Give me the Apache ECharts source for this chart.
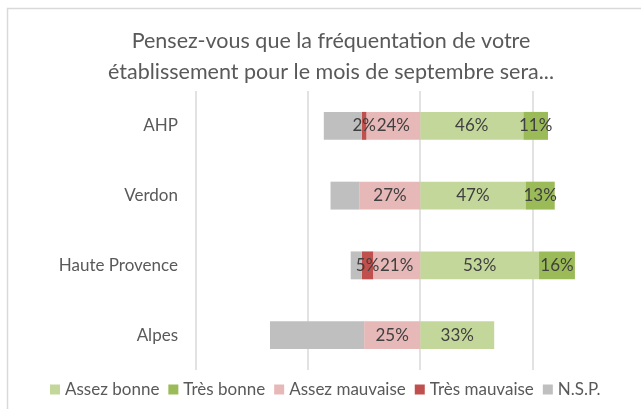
<!DOCTYPE html>
<html>
<head>
<meta charset="utf-8">
<script src="https://cdn.jsdelivr.net/npm/echarts@6/dist/echarts.min.js"></script>
<style>
  html, body { margin: 0; padding: 0; background: #fff; }
  #chart { width: 641px; height: 409px; }
</style>
</head>
<body>
<div id="chart"></div>
<script>
// données (en %)
var categories = ['AHP', 'Verdon', 'Haute Provence', 'Alpes'];
var assezBonne = [46, 47, 53, 33];
var tresBonne = [11, 13, 16, 0];
var assezMauvaise = [24, 27, 21, 25];
var tresMauvaise = [2, 0, 5, 0];
var nsp = [17, 13, 5, 42];

var chart = echarts.init(document.getElementById('chart'));
var font = 'Lato, "Open Sans", sans-serif';

function neg(arr) {
    return arr.map(function (v) { return -v; });
}

function labelFmt(p) {
    var v = Math.abs(p.value);
    return v ? v + '%' : '';
}

function barSeries(name, data, color, showLabel) {
    return {
        name: name,
        type: 'bar',
        stack: 'total',
        barWidth: '40%',
        data: data,
        itemStyle: { color: color },
        label: {
            show: showLabel,
            position: 'inside',
            formatter: labelFmt,
            color: '#404040',
            fontSize: 17,
            fontFamily: font
        }
    };
}

var option = {
    animation: false,
    textStyle: { fontFamily: font },
    graphic: [{
        type: 'rect',
        shape: { x: 7.5, y: 8.5, width: 700, height: 500 },
        style: { fill: 'none', stroke: '#D9D9D9', lineWidth: 1.5 },
        silent: true
    }],
    title: {
        text: 'Pensez-vous que la fréquentation de votre\nétablissement pour le mois de septembre sera...',
        left: 326,
        textAlign: 'center',
        top: 21,
        textStyle: {
            color: '#595959',
            fontSize: 21.5,
            fontWeight: 'normal',
            lineHeight: 31,
            fontFamily: font
        }
    },
    legend: {
        left: 45,
        top: 376,
        itemWidth: 10,
        itemHeight: 10,
        itemGap: 9,
        icon: 'rect',
        textStyle: { color: '#595959', fontSize: 17, fontFamily: font },
        data: ['Assez bonne', 'Très bonne', 'Assez mauvaise', 'Très mauvaise', 'N.S.P.']
    },
    grid: { left: 196, right: 19, top: 91, bottom: 39 },
    xAxis: {
        type: 'value',
        min: -100,
        max: 90,
        interval: 50,
        axisLabel: { show: false },
        axisLine: { show: false },
        axisTick: { show: false },
        splitLine: {
            show: true,
            showMaxLine: false,
            lineStyle: { color: '#D9D9D9', width: 1.5 }
        }
    },
    yAxis: {
        type: 'category',
        inverse: true,
        data: categories,
        axisLine: { show: false },
        axisTick: { show: false },
        axisLabel: { color: '#595959', fontSize: 17, margin: 18, fontFamily: font }
    },
    series: [
        barSeries('Assez bonne', assezBonne, '#C4D79B', true),
        barSeries('Très bonne', tresBonne, '#9BBB59', true),
        barSeries('Assez mauvaise', neg(assezMauvaise), '#E6B8B7', true),
        barSeries('Très mauvaise', neg(tresMauvaise), '#C0504D', true),
        barSeries('N.S.P.', neg(nsp), '#BFBFBF', false)
    ]
};

chart.setOption(option);
</script>
</body>
</html>
